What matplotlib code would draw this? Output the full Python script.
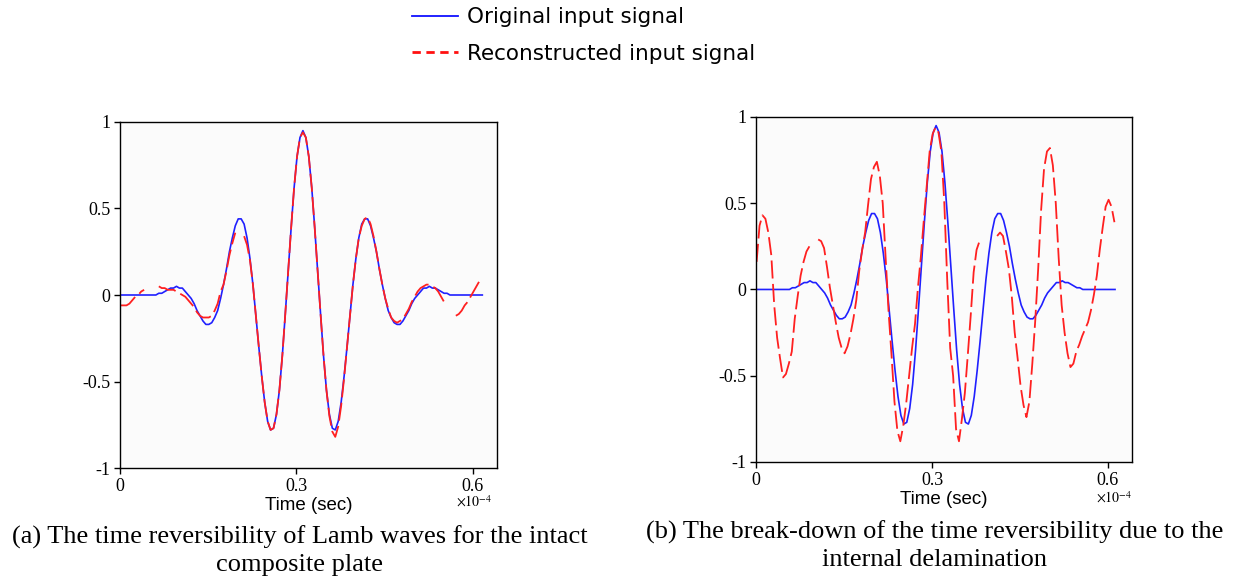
import numpy as np
import matplotlib
matplotlib.use("Agg")
import matplotlib.pyplot as plt
from matplotlib.lines import Line2D

plt.rcParams['mathtext.fontset'] = 'stix'

nan = np.nan

# time axis in units of 1e-4 sec, sample spacing 0.005
t_start = 0.001
t_step = 0.005

# original input signal (same tone burst in both panels)
original = [0, 0, 0, 0, 0, 0, 0, 0, 0, 0, 0, 0,
            0.00, 0.01, 0.01, 0.02, 0.03, 0.04, 0.04, 0.05, 0.04, 0.04,
            0.02, 0.00, -0.02, -0.05, -0.09, -0.12, -0.15, -0.17, -0.17, -0.16,
            -0.13, -0.09, -0.02, 0.06, 0.15, 0.25, 0.33, 0.40, 0.44, 0.44,
            0.41, 0.33, 0.21, 0.06, -0.12, -0.30, -0.47, -0.62, -0.73, -0.78,
            -0.77, -0.69, -0.55, -0.35, -0.11, 0.14, 0.39, 0.62, 0.80, 0.91,
            0.95, 0.91, 0.80, 0.62, 0.39, 0.14, -0.11, -0.35, -0.55, -0.69,
            -0.77, -0.78, -0.73, -0.62, -0.47, -0.30, -0.12, 0.06, 0.21, 0.33,
            0.41, 0.44, 0.44, 0.40, 0.33, 0.25, 0.15, 0.06, -0.02, -0.09,
            -0.13, -0.16, -0.17, -0.17, -0.15, -0.12, -0.09, -0.05, -0.02, 0.00,
            0.02, 0.04, 0.04, 0.05, 0.04, 0.04, 0.03, 0.02, 0.01, 0.01,
            0.00, 0, 0, 0, 0, 0, 0, 0, 0, 0, 0, 0]

# reconstructed signal, intact plate (a)
recon_a = [-0.06, -0.06, -0.06, -0.05, -0.03, -0.01, 0.00, 0.02, 0.03, nan,
           nan, nan, nan, 0.05, 0.04, 0.04, 0.03, 0.03, 0.03, 0.02,
           0.01, 0.00, -0.01, -0.03, -0.05, -0.07, -0.10, -0.12, -0.13, -0.13,
           -0.13, -0.12, -0.09, -0.05, 0.02, 0.06, 0.14, 0.23, 0.30, 0.36,
           nan, nan, 0.34, 0.29, 0.20, 0.06, -0.12, -0.30, -0.47, -0.62,
           -0.73, -0.78, -0.77, -0.69, -0.55, -0.35, -0.11, 0.14, 0.39, 0.62,
           0.80, 0.91, 0.94, 0.91, 0.80, 0.62, 0.39, 0.14, -0.11, -0.35,
           -0.55, -0.70, -0.79, -0.82, -0.76, -0.64, -0.48, -0.30, -0.12, 0.06,
           0.21, 0.33, 0.40, 0.44, 0.45, 0.41, 0.34, 0.25, 0.15, 0.06,
           -0.02, -0.08, -0.13, -0.15, -0.16, -0.15, -0.14, -0.11, -0.08, -0.04,
           -0.01, 0.02, 0.04, 0.05, 0.06, 0.06, 0.05, 0.04, 0.02, -0.01,
           -0.04, -0.05, nan, nan, -0.12, -0.11, -0.09, -0.06, -0.04, -0.01,
           0.02, 0.05, 0.08, nan]

# reconstructed signal, delaminated plate (b)
recon_b = [0.16, 0.37, 0.43, 0.41, 0.33, 0.20, -0.09, -0.28, -0.40, -0.51,
           -0.49, -0.43, -0.36, -0.17, -0.04, 0.08, 0.16, 0.22, 0.25, nan,
           nan, 0.29, 0.28, 0.24, 0.13, 0.01, -0.09, -0.19, -0.28, -0.34,
           -0.37, -0.33, -0.26, -0.17, -0.06, 0.11, 0.23, 0.33, 0.49, 0.64,
           0.71, 0.74, 0.66, 0.50, 0.18, -0.13, -0.38, -0.65, -0.82, -0.88,
           -0.79, -0.66, -0.50, -0.34, -0.20, 0.01, 0.19, 0.40, 0.60, 0.80,
           0.90, 0.94, 0.91, 0.80, 0.50, 0.05, -0.34, -0.50, -0.81, -0.88,
           -0.75, -0.60, -0.38, -0.15, 0.10, 0.23, 0.28, 0.27, nan, nan,
           nan, nan, 0.31, 0.33, 0.31, 0.22, 0.12, -0.04, -0.25, -0.40,
           -0.56, -0.67, -0.74, -0.65, -0.43, -0.18, 0.12, 0.46, 0.70, 0.80,
           0.82, 0.72, 0.50, 0.18, -0.09, -0.25, -0.37, -0.45, -0.43, -0.36,
           -0.32, -0.27, -0.23, -0.19, -0.12, -0.03, 0.08, 0.23, 0.36, 0.48,
           0.52, 0.48, 0.39, nan]

shift_b = -0.004   # original signal sits slightly earlier in panel (b)

x_ticks = [0, 0.3, 0.6]
x_ticklabels = ['0', '0.3', '0.6']
y_ticks = [-1, -0.5, 0, 0.5, 1]
y_ticklabels = ['-1', '-0.5', '0', '0.5', '1']

captions = ["(a) The time reversibility of Lamb waves for the intact\ncomposite plate",
            "(b) The break-down of the time reversibility due to the\ninternal delamination"]
legend_labels = ['Original input signal', 'Reconstructed input signal']

t = t_start + t_step * np.arange(len(original))

fig = plt.figure(figsize=(12.41, 5.79), dpi=100)
ax_a = fig.add_axes([0.0967, 0.1917, 0.3038, 0.5976])
ax_b = fig.add_axes([0.6092, 0.2021, 0.3030, 0.5959])

dash = (0, (10, 3))

ax_a.plot(t, original, color='#2020ff', lw=1.2)
ax_a.plot(t, recon_a, color='#ff2020', lw=1.3, linestyle=dash)

ax_b.plot(t + shift_b, original, color='#2020ff', lw=1.2)
ax_b.plot(t, recon_b, color='#ff2020', lw=1.3, linestyle=dash)

for ax in (ax_a, ax_b):
    ax.set_facecolor('#fbfbfb')
    ax.set_xlim(0, 0.641)
    ax.set_ylim(-1, 1)
    ax.set_xticks(x_ticks)
    ax.set_xticklabels(x_ticklabels, fontfamily='Liberation Serif', fontsize=13)
    ax.set_yticks(y_ticks)
    ax.set_yticklabels(y_ticklabels, fontfamily='Liberation Serif', fontsize=13)
    ax.tick_params(direction='out', length=4, width=1, pad=3)
    for s in ax.spines.values():
        s.set_linewidth(1.0)
        s.set_color('black')
    ax.set_xlabel('Time (sec)', fontfamily='Liberation Sans', fontsize=13.5, labelpad=1.5)

ax_a.text(474 / 1241, 1 - 502 / 579, r'$\times10^{-4}$', transform=fig.transFigure,
          ha='center', va='center', fontsize=10)
ax_b.text(1114 / 1241, 1 - 498 / 579, r'$\times10^{-4}$', transform=fig.transFigure,
          ha='center', va='center', fontsize=10)

fig.text(300 / 1241, 1 - 551 / 579, captions[0], ha='center', va='center',
         fontfamily='Liberation Serif', fontsize=19, linespacing=1.3)
fig.text(935 / 1241, 1 - 545.5 / 579, captions[1], ha='center', va='center',
         fontfamily='Liberation Serif', fontsize=19, linespacing=1.3)

handles = [Line2D([], [], color='#1010ff', lw=1.3),
           Line2D([], [], color='#ff1010', lw=2.0, linestyle=(0, (3, 2)))]
fig.legend(handles, legend_labels, loc='center', bbox_to_anchor=(584 / 1241, 1 - 35.5 / 579),
           frameon=False, handlelength=2.14, handletextpad=0.42,
           labelspacing=0.78, borderpad=0, prop={'family': 'DejaVu Sans', 'size': 15.5})

fig.savefig('out.png', dpi=100, facecolor='white')
